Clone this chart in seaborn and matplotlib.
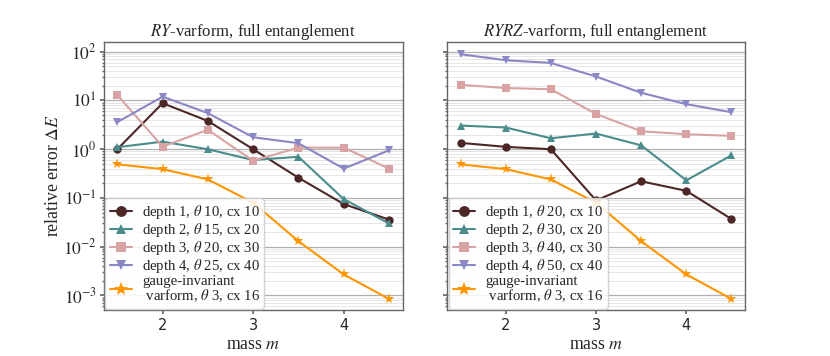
import numpy as np
import pandas as pd
import matplotlib
matplotlib.use("Agg")
import matplotlib.pyplot as plt
import matplotlib.ticker as mticker
import seaborn as sns

sns.set_theme(style="ticks")
plt.rcParams.update({
    'font.family': ['Liberation Serif', 'DejaVu Serif'],
    'mathtext.fontset': 'stix',
    'font.size': 11,
})

mass = [1.5, 2.0, 2.5, 3.0, 3.5, 4.0, 4.5]

# RY-varform, full entanglement
ry_d1 = [1.0, 8.8, 3.8, 1.0, 0.26, 0.075, 0.036]
ry_d2 = [1.1, 1.43, 1.0, 0.6, 0.7, 0.095, 0.03]
ry_d3 = [13.0, 1.13, 2.5, 0.58, 1.08, 1.08, 0.40]
ry_d4 = [3.6, 12.0, 5.5, 1.76, 1.33, 0.40, 0.95]

# RYRZ-varform, full entanglement
ryrz_d1 = [1.35, 1.12, 1.0, 0.089, 0.22, 0.14, 0.037]
ryrz_d2 = [3.06, 2.79, 1.68, 2.1, 1.2, 0.23, 0.75]
ryrz_d3 = [21.0, 18.0, 17.0, 5.3, 2.34, 2.03, 1.88]
ryrz_d4 = [89.0, 67.0, 59.0, 31.0, 14.4, 8.4, 5.75]

# gauge-invariant varform (same in both panels)
gauge = [0.49, 0.39, 0.24, 0.08, 0.013, 0.0027, 0.00085]

ry_labels = [r"depth 1, $\theta$ 10, cx 10", r"depth 2, $\theta$ 15, cx 20",
             r"depth 3, $\theta$ 20, cx 30", r"depth 4, $\theta$ 25, cx 40"]
ryrz_labels = [r"depth 1, $\theta$ 20, cx 10", r"depth 2, $\theta$ 30, cx 20",
               r"depth 3, $\theta$ 40, cx 30", r"depth 4, $\theta$ 50, cx 40"]
gauge_label = "gauge-invariant\n varform, $\\theta$ 3, cx 16"

colors = ["#4d2626", "#4a8c8c", "#d9a3a3", "#8a87c6"]
markers = ["o", "^", "s", "v"]
gauge_color = "#ff9500"

fig = plt.figure(figsize=(8.3, 3.56), dpi=100)
ax1 = fig.add_axes([0.125, 0.129, 0.360, 0.753])
ax2 = fig.add_axes([0.5386, 0.129, 0.359, 0.753])

panels = [
    (ax1, [ry_d1, ry_d2, ry_d3, ry_d4], ry_labels, r"$RY$-varform, full entanglement"),
    (ax2, [ryrz_d1, ryrz_d2, ryrz_d3, ryrz_d4], ryrz_labels, r"$RYRZ$-varform, full entanglement"),
]

for ax, series, labels, title in panels:
    for vals, lab, col, mk in zip(series, labels, colors, markers):
        df = pd.DataFrame({"mass": mass, "err": vals})
        sns.lineplot(data=df, x="mass", y="err", ax=ax, color=col, marker=mk,
                     markersize=6, markeredgewidth=0, linewidth=1.5, label=lab)
    df = pd.DataFrame({"mass": mass, "err": gauge})
    sns.lineplot(data=df, x="mass", y="err", ax=ax, color=gauge_color, marker="*",
                 markersize=8, markeredgewidth=0, linewidth=1.5, label=gauge_label)

    ax.set_yscale("log")
    ax.set_ylim(10 ** -3.3, 10 ** 2.2)
    ax.set_xlim(1.35, 4.65)
    ax.set_xticks([2, 3, 4])
    ax.yaxis.set_major_locator(mticker.LogLocator(base=10, numticks=10))
    ax.yaxis.set_major_formatter(mticker.FuncFormatter(lambda v, p: r"$10^{%d}$" % round(np.log10(v))))
    ax.yaxis.set_minor_locator(mticker.LogLocator(base=10, subs=np.arange(2, 10), numticks=20))
    ax.yaxis.set_minor_formatter(mticker.NullFormatter())
    ax.grid(True, which="major", axis="y", color="#b0b0b0", linewidth=0.9)
    ax.grid(True, which="minor", axis="y", color="#e6e6e6", linewidth=0.7)
    ax.set_axisbelow(True)
    for sp in ax.spines.values():
        sp.set_color("#666666")
        sp.set_linewidth(1.0)
    ax.tick_params(axis="y", which="major", labelsize=12.5, length=3, pad=2, color="#666666")
    ax.tick_params(axis="x", which="major", labelsize=10.5, length=3, pad=3, color="#666666")
    ax.tick_params(axis="y", which="minor", length=1.8, color="#666666")
    ax.set_title(title, fontsize=12.0, pad=4)
    ax.set_xlabel(r"mass $m$", fontsize=12.8, labelpad=2)
    for t in ax.get_xticklabels():
        t.set_family("DejaVu Sans")
    leg = ax.legend(loc="lower left", prop={"size": 10.6}, frameon=True, fancybox=True,
                    handlelength=1.5, handleheight=0.6, borderpad=0.3, labelspacing=0.0,
                    handletextpad=0.7, borderaxespad=0.1, markerscale=1.3, framealpha=0.85)
    leg.get_frame().set_edgecolor("#cccccc")
    leg.get_texts()[-1].set_linespacing(1.0)

ax1.set_ylabel(r"relative error $\Delta E$", fontsize=12.8, labelpad=1)
ax2.set_ylabel("")
ax2.set_yticklabels([])

fig.savefig("out.png", dpi=100)
